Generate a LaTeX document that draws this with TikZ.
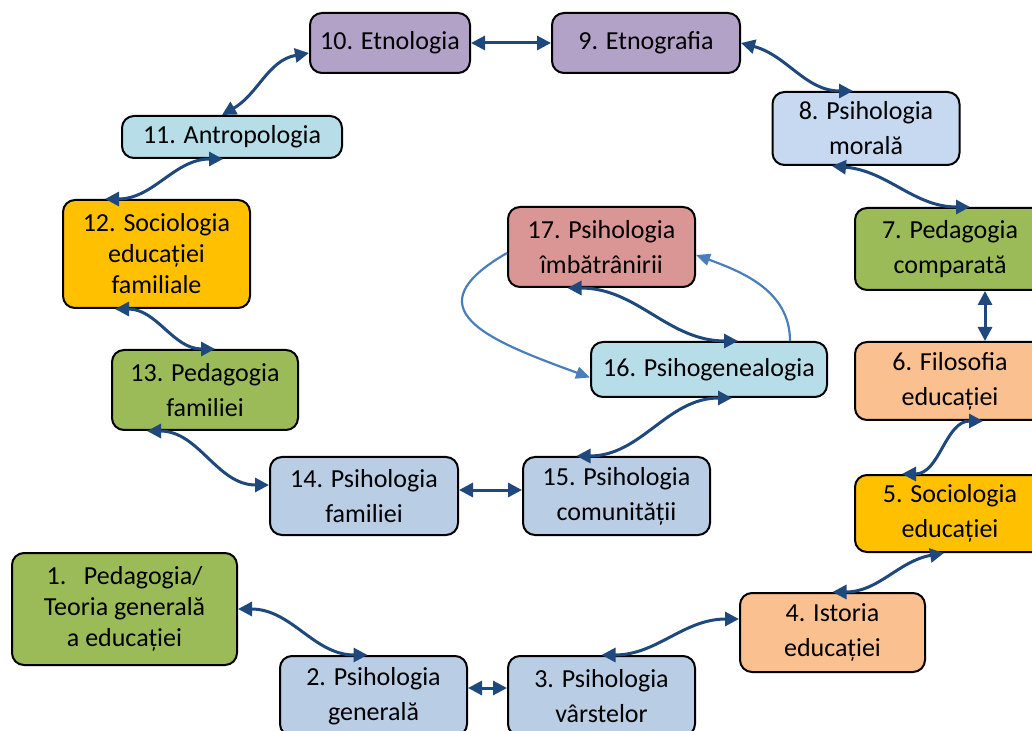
\documentclass[tikz,border=0pt]{standalone}
\usepackage{fontspec}
\setmainfont{Carlito}
\usepackage{xcolor}
\usetikzlibrary{arrows.meta}
\definecolor{lilac}{RGB}{179,162,199}
\definecolor{sky}{RGB}{183,222,232}
\definecolor{amber}{RGB}{255,192,0}
\definecolor{leaf}{RGB}{155,187,89}
\definecolor{steel}{RGB}{185,205,229}
\definecolor{ice}{RGB}{198,217,241}
\definecolor{rose}{RGB}{217,150,148}
\definecolor{peach}{RGB}{250,192,144}
\definecolor{linkdark}{RGB}{31,73,125}
\definecolor{linklight}{RGB}{74,126,187}
\tikzstyle{Box} = [
draw=black, line width=1pt, rounded corners=6pt,
align=center, inner sep=2pt,
font=\fontsize{13}{17.5}\selectfont]
\tikzstyle{Tight} = [font=\fontsize{13}{15.5}\selectfont]
\tikzstyle{Link} = [
draw=linkdark, line width=1.5pt,
{Triangle[length=7pt,width=7pt]}-{Triangle[length=7pt,width=7pt]}]
\tikzstyle{Loop} = [
draw=linklight, line width=1.1pt,
-{Triangle[length=7pt,width=6pt]}]

\begin{document}
\begin{tikzpicture}[x=0.5pt, y=-0.5pt]
        \useasboundingbox (0,0) rectangle (1032,731);
        \node [Box, Tight, fill=leaf, minimum width=112.5pt, minimum height=56pt] (1) at (124.5,609) {1.\ \ \ Pedagogia/\\Teoria generală\\a educației};
        \node [Box, fill=steel, minimum width=93.5pt, minimum height=40pt] (2) at (373.5,696) {2. Psihologia\\generală};
        \node [Box, fill=steel, minimum width=93.5pt, minimum height=40pt] (3) at (601.5,696) {3. Psihologia\\vârstelor};
        \node [Box, fill=peach, minimum width=92.5pt, minimum height=39.5pt] (4) at (832.5,632.5) {4. Istoria\\educației};
        \node [Box, fill=amber, minimum width=95pt, minimum height=38.5pt] (5) at (950,513.5) {5. Sociologia\\educației};
        \node [Box, fill=peach, minimum width=95pt, minimum height=39pt] (6) at (950,381) {6. Filosofia\\educației};
        \node [Box, fill=leaf, minimum width=95pt, minimum height=41pt] (7) at (950,249) {7. Pedagogia\\comparată};
        \node [Box, fill=ice, minimum width=93.5pt, minimum height=36.5pt] (8) at (866,128.5) {8. Psihologia\\morală};
        \node [Box, fill=lilac, minimum width=94pt, minimum height=30pt] (9) at (646,43) {9. Etnografia\vphantom{g}};
        \node [Box, fill=lilac, minimum width=80pt, minimum height=30pt] (10) at (390,43) {10. Etnologia};
        \node [Box, fill=sky, minimum width=110pt, minimum height=21pt] (11) at (232,137) {11. Antropologia};
        \node [Box, Tight, fill=amber, minimum width=93.5pt, minimum height=54pt] (12) at (156.5,254) {12. Sociologia\\educației\\familiale};
        \node [Box, fill=leaf, minimum width=93pt, minimum height=40pt] (13) at (205,390) {13. Pedagogia\\familiei};
        \node [Box, fill=steel, minimum width=94pt, minimum height=39pt] (14) at (364,496) {14. Psihologia\\familiei};
        \node [Box, fill=steel, minimum width=93.5pt, minimum height=39pt] (15) at (616.5,496) {15. Psihologia\\comunității};
        \node [Box, fill=sky, minimum width=118pt, minimum height=27.5pt] (16) at (709,369.5) {16. Psihogenealogia};
        \node [Box, fill=rose, minimum width=93.5pt, minimum height=40pt] (17) at (601.5,247) {17. Psihologia\\îmbătrânirii};

        \draw[Link] (1.east) to [out=0, in=180] ([xshift=-3pt]2.north);
        \draw[Link] ([yshift=4pt]2.east)--([yshift=4pt]3.west);
        \draw[Link] (3.north) to [out=0, in=180] ([yshift=6.75pt]4.west);
        \draw[Link] (4.north) to [out=0, in=190] ([xshift=-3pt]5.south);
        \draw[Link] ([xshift=-24pt]5.north) to [out=0, in=180] ([xshift=16.5pt]6.south);
        \draw[Link] ([xshift=17.5pt]6.north)--([xshift=17.5pt]7.south);
        \draw[Link] ([xshift=-17pt]8.south) to [out=-5, in=180] ([xshift=10pt]7.north);
        \draw[Link] (9.east) to [out=-15, in=180] ([xshift=-6.5pt]8.north);
        \draw[Link] (10.east)--(9.west);
        \draw[Link] ([xshift=-5pt]11.north) to [out=30, in=190] ([yshift=-5pt]10.west);
        \draw[Link] ([xshift=-25.75pt]12.north) to [out=0, in=180] ([xshift=-4.5pt]11.south);
        \draw[Link] ([xshift=-20.75pt]12.south) to [out=0, in=180] ([xshift=5pt]13.north);
        \draw[Link] ([xshift=-29pt]13.south) to [out=0, in=180] ([yshift=5.5pt]14.west);
        \draw[Link] ([yshift=3pt]14.east)--([yshift=3pt]15.west);
        \draw[Link] ([xshift=-20pt]15.north) to [out=0, in=180] ([xshift=11.5pt]16.south);
        \draw[Link] ([xshift=-17pt]17.south) to [out=0, in=180] ([xshift=14.5pt]16.north);
        \draw[Loop] ([yshift=-3pt]17.west) to [out=210, in=160, looseness=1.9] ([yshift=-4pt]16.west);
        \draw[Loop] ([xshift=40.5pt]16.north) to [out=90, in=-20] ([yshift=-4pt]17.east);
    \end{tikzpicture}
\end{document}
